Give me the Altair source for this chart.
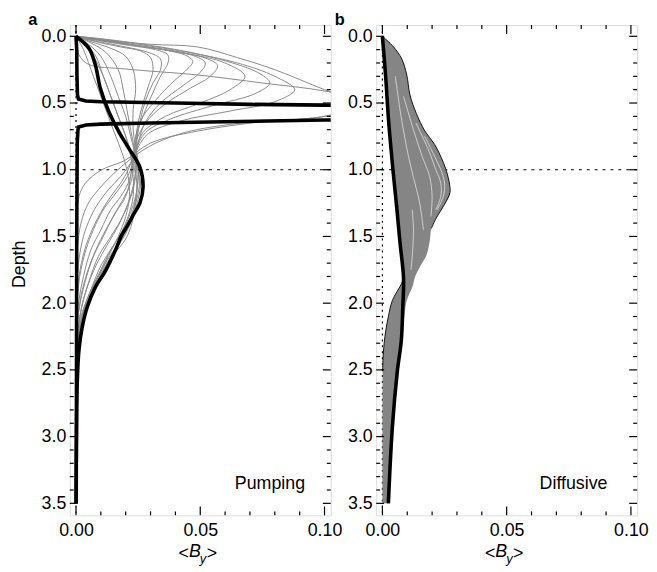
import altair as alt
import pandas as pd

# ---------------- panel a : thin grey profiles (depth, <By>) ----------------
A_C1_D = [0, 0.03, 0.06, 0.08, 0.16, 0.25, 0.4, 0.5, 0.6, 0.64, 0.71, 0.8, 0.93, 1.0, 1.1, 1.2, 1.35, 1.6]
A_C1_X = [0, 0.012, 0.03, 0.049, 0.065, 0.08, 0.1, 0.115, 0.1, 0.075, 0.049, 0.03, 0.0197, 0.0104, 0.0038, 0.0012, 0.0003, 0]
A_C2_D = [0, 0.07, 0.14, 0.21, 0.245, 0.29, 0.35, 0.41, 0.5, 0.6, 0.66, 0.73, 0.83, 0.95, 1.05, 1.15, 1.25, 1.4, 1.6, 1.8]
A_C2_X = [0, 0.0005, 0.0012, 0.005, 0.02, 0.049, 0.075, 0.1, 0.12, 0.1, 0.062, 0.042, 0.029, 0.02, 0.014, 0.009, 0.005, 0.002, 0.0005, 0]
A_P2_D = [0, 0.02, 0.06, 0.12, 0.2, 0.3, 0.4, 0.49, 0.56, 0.635, 0.73, 0.83, 0.95, 1.05, 1.15, 1.25, 1.35, 1.5, 1.7, 2.0]
A_P2_X = [0, 0.01, 0.025, 0.045, 0.065, 0.08, 0.088, 0.08, 0.062, 0.042, 0.029, 0.025, 0.022, 0.018, 0.013, 0.009, 0.006, 0.003, 0.001, 0]
A_P2B_D = [0, 0.02, 0.06, 0.12, 0.2, 0.28, 0.35, 0.43, 0.52, 0.62, 0.72, 0.85, 1.0, 1.1, 1.2, 1.32, 1.45, 1.6, 1.8, 2.05]
A_P2B_X = [0, 0.011, 0.027, 0.046, 0.063, 0.074, 0.078, 0.072, 0.055, 0.038, 0.028, 0.024, 0.021, 0.018, 0.014, 0.01, 0.0065, 0.0035, 0.0012, 0]
A_P3_D = [0, 0.025, 0.07, 0.13, 0.2, 0.3, 0.4, 0.5, 0.6, 0.72, 0.85, 1.0, 1.1, 1.2, 1.3, 1.45, 1.6, 1.8, 2.1]
A_P3_X = [0, 0.01, 0.025, 0.045, 0.06, 0.068, 0.062, 0.05, 0.036, 0.027, 0.024, 0.022, 0.019, 0.015, 0.011, 0.007, 0.004, 0.0015, 0]
A_P4_D = [0, 0.03, 0.07, 0.12, 0.17, 0.22, 0.3, 0.4, 0.52, 0.65, 0.8, 0.95, 1.1, 1.2, 1.3, 1.45, 1.6, 1.8, 2.0, 2.2]
A_P4_X = [0, 0.01, 0.025, 0.042, 0.053, 0.057, 0.054, 0.045, 0.035, 0.028, 0.024, 0.023, 0.021, 0.018, 0.014, 0.01, 0.006, 0.003, 0.001, 0]
A_P4B_D = [0, 0.03, 0.07, 0.11, 0.15, 0.2, 0.27, 0.37, 0.5, 0.64, 0.8, 0.95, 1.1, 1.22, 1.35, 1.5, 1.65, 1.85, 2.05, 2.25]
A_P4B_X = [0, 0.01, 0.024, 0.038, 0.048, 0.052, 0.05, 0.043, 0.034, 0.028, 0.025, 0.0235, 0.022, 0.019, 0.015, 0.011, 0.007, 0.0035, 0.0012, 0]
A_P5_D = [0, 0.03, 0.07, 0.11, 0.15, 0.19, 0.26, 0.36, 0.48, 0.6, 0.75, 0.9, 1.05, 1.2, 1.32, 1.45, 1.6, 1.8, 2.0, 2.3]
A_P5_X = [0, 0.01, 0.025, 0.038, 0.045, 0.047, 0.044, 0.038, 0.032, 0.027, 0.024, 0.023, 0.022, 0.02, 0.016, 0.012, 0.008, 0.004, 0.0015, 0]
A_P6_D = [0, 0.035, 0.07, 0.1, 0.14, 0.2, 0.3, 0.42, 0.55, 0.7, 0.85, 1.0, 1.12, 1.25, 1.38, 1.5, 1.65, 1.85, 2.05, 2.35]
A_P6_X = [0, 0.01, 0.022, 0.032, 0.037, 0.037, 0.034, 0.031, 0.028, 0.025, 0.024, 0.024, 0.023, 0.021, 0.018, 0.014, 0.009, 0.005, 0.002, 0]
A_P6B_D = [0, 0.04, 0.08, 0.12, 0.17, 0.25, 0.35, 0.48, 0.62, 0.78, 0.92, 1.05, 1.18, 1.3, 1.42, 1.55, 1.7, 1.88, 2.08, 2.38]
A_P6B_X = [0, 0.009, 0.02, 0.029, 0.034, 0.034, 0.031, 0.028, 0.026, 0.0245, 0.0245, 0.024, 0.0225, 0.02, 0.017, 0.013, 0.0085, 0.0045, 0.0018, 0]
A_P7_D = [0, 0.04, 0.08, 0.11, 0.16, 0.25, 0.38, 0.5, 0.65, 0.8, 0.95, 1.08, 1.2, 1.32, 1.45, 1.57, 1.72, 1.9, 2.1, 2.4]
A_P7_X = [0, 0.008, 0.018, 0.026, 0.03, 0.031, 0.029, 0.027, 0.025, 0.024, 0.025, 0.025, 0.024, 0.022, 0.019, 0.015, 0.01, 0.006, 0.0025, 0]
A_P8_D = [0, 0.04, 0.09, 0.15, 0.25, 0.4, 0.55, 0.7, 0.85, 1.0, 1.1, 1.22, 1.35, 1.48, 1.6, 1.75, 1.9, 2.1, 2.3, 2.45]
A_P8_X = [0, 0.006, 0.014, 0.02, 0.023, 0.024, 0.023, 0.023, 0.024, 0.025, 0.026, 0.025, 0.023, 0.02, 0.016, 0.011, 0.007, 0.003, 0.001, 0]
A_Q1_D = [0, 0.06, 0.15, 0.3, 0.45, 0.6, 0.75, 0.9, 1.0, 1.12, 1.25, 1.38, 1.5, 1.62, 1.75, 1.9, 2.05, 2.25, 2.5]
A_Q1_X = [0, 0.005, 0.01, 0.014, 0.017, 0.02, 0.022, 0.024, 0.025, 0.0255, 0.024, 0.022, 0.019, 0.015, 0.011, 0.007, 0.004, 0.0015, 0]
A_Q2_D = [0, 0.06, 0.15, 0.3, 0.45, 0.6, 0.75, 0.9, 1.05, 1.2, 1.35, 1.48, 1.6, 1.75, 1.9, 2.05, 2.25, 2.5]
A_Q2_X = [0, 0.004, 0.008, 0.011, 0.014, 0.017, 0.02, 0.022, 0.023, 0.023, 0.021, 0.018, 0.014, 0.01, 0.006, 0.003, 0.001, 0]
A_R1_D = [0, 0.06, 0.15, 0.3, 0.5, 0.65, 0.8, 0.95, 1.1, 1.25, 1.4, 1.52, 1.65, 1.78, 1.9, 2.05, 2.2, 2.4]
A_R1_X = [0, 0.003, 0.007, 0.011, 0.015, 0.018, 0.021, 0.023, 0.0245, 0.024, 0.0225, 0.02, 0.0145, 0.0105, 0.007, 0.0035, 0.0012, 0]
A_Q3_D = [0, 0.1, 0.3, 0.5, 0.7, 0.9, 1.05, 1.2, 1.35, 1.5, 1.65, 1.8, 1.95, 2.1, 2.3]
A_Q3_X = [0, 0.003, 0.007, 0.011, 0.015, 0.019, 0.021, 0.0215, 0.02, 0.017, 0.013, 0.009, 0.005, 0.002, 0]
A_Q4_D = [0, 0.05, 0.12, 0.25, 0.4, 0.55, 0.7, 0.85, 1.0, 1.15, 1.3, 1.42, 1.55, 1.68, 1.82, 1.97, 2.15, 2.4]
A_Q4_X = [0, 0.006, 0.012, 0.017, 0.019, 0.0205, 0.022, 0.0235, 0.0245, 0.0245, 0.023, 0.0205, 0.017, 0.0125, 0.0085, 0.005, 0.002, 0]

A_GREY = [(A_C1_D, A_C1_X), (A_C2_D, A_C2_X), (A_P2_D, A_P2_X), (A_P2B_D, A_P2B_X),
          (A_P3_D, A_P3_X), (A_P4_D, A_P4_X), (A_P4B_D, A_P4B_X), (A_P5_D, A_P5_X),
          (A_P6_D, A_P6_X), (A_P6B_D, A_P6B_X), (A_P7_D, A_P7_X), (A_P8_D, A_P8_X),
          (A_Q1_D, A_Q1_X), (A_Q2_D, A_Q2_X), (A_R1_D, A_R1_X), (A_Q3_D, A_Q3_X),
          (A_Q4_D, A_Q4_X)]

# thick black profiles, panel a
A_SPIKE_D = [0, 0.1, 0.3, 0.44, 0.47, 0.485, 0.49, 0.5, 0.51, 0.516, 0.57, 0.627, 0.64, 0.65, 0.658, 0.665, 0.68, 0.7, 0.8, 1.5, 2.5, 3.5]
A_SPIKE_X = [0, 0.0003, 0.0004, 0.0006, 0.001, 0.004, 0.01, 0.04, 0.07, 0.1, 0.4, 0.1, 0.06, 0.03, 0.01, 0.004, 0.001, 0.0008, 0.0005, 0.0003, 0.0002, 0.0001]
A_THICK_D = [0, 0.09, 0.215, 0.39, 0.56, 0.71, 0.833, 0.98, 1.13, 1.25, 1.34, 1.41, 1.49, 1.61, 1.76, 1.88, 2.03, 2.18, 2.35, 2.6, 3.0, 3.5]
A_THICK_X = [0, 0.0052, 0.0078, 0.0098, 0.0131, 0.0171, 0.021, 0.0257, 0.027, 0.0257, 0.023, 0.021, 0.0184, 0.0157, 0.0118, 0.0078, 0.0045, 0.0025, 0.0012, 0.0005, 0.0002, 0.0]

# ---------------- panel b ----------------
B_AREA_D = [0, 0.08, 0.17, 0.29, 0.44, 0.58, 0.71, 0.81, 0.91, 1.0, 1.06, 1.12, 1.17, 1.26, 1.36, 1.44, 1.54, 1.64, 1.73, 1.81, 1.86, 1.98, 2.1, 2.2, 2.3, 2.43, 2.51, 2.93, 3.5]
B_AREA_L = [0, 0.0003, 0.0007, 0.0012, 0.0018, 0.0023, 0.0029, 0.0033, 0.0038, 0.0043, 0.0046, 0.0049, 0.0052, 0.0056, 0.0062, 0.0066, 0.0071, 0.0076, 0.0081, 0.0085, 0.0075, 0.004, 0.0024, 0.0014, 0.0007, 0.0002, 0.0001, 0.0, 0.0]
B_AREA_R = [0, 0.0045, 0.0078, 0.0098, 0.0111, 0.0137, 0.0171, 0.021, 0.0237, 0.0256, 0.0265, 0.0271, 0.0272, 0.025, 0.0217, 0.0197, 0.019, 0.0177, 0.015, 0.013, 0.0124, 0.0098, 0.0088, 0.0082, 0.0075, 0.0066, 0.006, 0.004, 0.0024]
B_THICK_D = [0, 0.3, 0.635, 1.05, 1.29, 1.55, 1.81, 2.03, 2.28, 2.51, 2.93, 3.5]
B_THICK_X = [0, 0.0013, 0.0025, 0.0045, 0.0058, 0.0071, 0.0085, 0.0082, 0.0076, 0.006, 0.004, 0.0024]
B_EDGE_R_D = [0, 0.08, 0.17, 0.29, 0.44, 0.58, 0.71, 0.81, 0.91, 1.0, 1.06, 1.12, 1.17, 1.26, 1.36, 1.44]
B_EDGE_R_X = [0, 0.0045, 0.0078, 0.0098, 0.0111, 0.0137, 0.0171, 0.021, 0.0237, 0.0256, 0.0265, 0.0271, 0.0272, 0.025, 0.0217, 0.0197]
B_EDGE_L_D = [1.81, 1.86, 1.98, 2.1, 2.2, 2.3, 2.43, 2.51]
B_EDGE_L_X = [0.0085, 0.0075, 0.004, 0.0024, 0.0014, 0.0007, 0.0002, 0.0001]
B_W1_D = [0.3, 0.6, 0.9, 1.05, 1.25, 1.45]
B_W1_X = [0.0052, 0.0075, 0.0105, 0.0124, 0.015, 0.0165]
B_W2_D = [0.45, 0.7, 0.9, 1.05, 1.2, 1.35]
B_W2_X = [0.0085, 0.0125, 0.016, 0.019, 0.02, 0.0195]
B_W3_D = [0.65, 0.85, 1.0, 1.1, 1.2, 1.3]
B_W3_X = [0.0135, 0.0185, 0.0215, 0.0235, 0.0235, 0.0215]
B_W4_D = [0.75, 0.9, 1.0, 1.1, 1.2, 1.3]
B_W4_X = [0.017, 0.021, 0.0235, 0.025, 0.0245, 0.022]
B_W5_D = [1.3, 1.45, 1.6, 1.75]
B_W5_X = [0.012, 0.0125, 0.0122, 0.0115]
B_WHITE = [(B_W1_D, B_W1_X), (B_W2_D, B_W2_X), (B_W3_D, B_W3_X), (B_W4_D, B_W4_X), (B_W5_D, B_W5_X)]

# ---------------- axes / ticks ----------------
X_LABELS = [0.0, 0.05, 0.10]
Y_LABELS = [0.0, 0.5, 1.0, 1.5, 2.0, 2.5, 3.0, 3.5]
X_MINOR = [0.01, 0.02, 0.03, 0.04, 0.06, 0.07, 0.08, 0.09]
Y_MINOR = [0.1, 0.2, 0.3, 0.4, 0.6, 0.7, 0.8, 0.9, 1.1, 1.2, 1.3, 1.4, 1.6, 1.7, 1.8, 1.9,
           2.1, 2.2, 2.3, 2.4, 2.6, 2.7, 2.8, 2.9, 3.1, 3.2, 3.3, 3.4]
REF_DEPTH = [1.0]
REF_X = [0.0]

W, H = 264, 496
FONT = "Liberation Sans"
XS = alt.Scale(domain=[-0.0025, 0.1025], nice=False, zero=False)
YS = alt.Scale(domain=[-0.084, 3.59], nice=False, zero=False, reverse=True)
XAX = alt.Axis(values=X_LABELS, format=".2f", tickSize=0, domain=False, grid=False,
               labelPadding=6, labelFontSize=18, labelFont=FONT, labelColor="black", title=None)
YAX = alt.Axis(values=Y_LABELS, format=".1f", tickSize=0, domain=False, grid=False,
               labelPadding=4, labelFontSize=18, labelFont=FONT, labelColor="black", title=None)


def X(field):
    return alt.X(field, type="quantitative", scale=XS, axis=XAX)


def Y(field):
    return alt.Y(field, type="quantitative", scale=YS, axis=YAX)


def curves_df(curves):
    rows = []
    for cid, (d, x) in enumerate(curves):
        for i, (dd, xx) in enumerate(zip(d, x)):
            rows.append({"c": cid, "i": i, "depth": dd, "b": xx})
    return pd.DataFrame(rows)


def line_layer(curves, color, width, interp="catmull-rom", opacity=1.0):
    return alt.Chart(curves_df(curves)).mark_line(
        color=color, strokeWidth=width, interpolate=interp, clip=True, opacity=opacity
    ).encode(x=X("b"), y=Y("depth"), detail="c:N", order="i:Q")


def tick_layers():
    out = []
    for vals, ln in ((X_MINOR, 4), (X_LABELS, 9)):
        df = pd.DataFrame({"v": vals})
        out.append(alt.Chart(df).mark_rule(color="black", strokeWidth=1.2).encode(
            x=X("v"), y=alt.value(H), y2=alt.value(H - ln)))
        out.append(alt.Chart(df).mark_rule(color="black", strokeWidth=1.2).encode(
            x=X("v"), y=alt.value(0), y2=alt.value(ln)))
    for vals, ln in ((Y_MINOR, 4), (Y_LABELS, 8)):
        df = pd.DataFrame({"v": vals})
        out.append(alt.Chart(df).mark_rule(color="black", strokeWidth=1.2).encode(
            y=Y("v"), x=alt.value(0), x2=alt.value(ln)))
        out.append(alt.Chart(df).mark_rule(color="black", strokeWidth=1.2).encode(
            y=Y("v"), x=alt.value(W), x2=alt.value(W - ln)))
    return out


def ref_layers():
    h = alt.Chart(pd.DataFrame({"v": REF_DEPTH})).mark_rule(
        color="black", strokeWidth=1, strokeDash=[3, 5]).encode(y=Y("v"))
    v = alt.Chart(pd.DataFrame({"v": REF_X})).mark_rule(
        color="black", strokeWidth=1.2, strokeDash=[2, 4]).encode(x=X("v"))
    return [h, v]


def text_layer(txt, x, y, size=18, weight="normal", style="normal", align="left"):
    return alt.Chart(pd.DataFrame({"t": [txt]})).mark_text(
        font=FONT, fontSize=size, fontWeight=weight, fontStyle=style, align=align,
        baseline="alphabetic", color="black"
    ).encode(text="t:N", x=alt.value(x), y=alt.value(y))


def annotations(letter, name, name_right):
    return [
        text_layer(letter, -42, -0.5, size=16.5, weight="bold"),
        text_layer(name, name_right, 469, align="right"),
        text_layer("<", 110, 540),
        text_layer("B", 120.5, 538.5, style="italic"),
        text_layer("y", 131.5, 544.5, size=13, style="italic"),
        text_layer(">", 138.5, 540),
    ]


# panel a
a_layers = [line_layer(A_GREY, "#8a8a8a", 1.0)] + ref_layers() + [
    line_layer([(A_SPIKE_D, A_SPIKE_X)], "black", 3.6, interp="linear"),
    line_layer([(A_THICK_D, A_THICK_X)], "black", 3.6),
] + tick_layers() + annotations("a", "Pumping", 238) + [
    text_layer("Depth", -45.5, 242, align="center").encode(angle=alt.value(270))
]
panel_a = alt.layer(*a_layers).properties(width=W, height=H)

# panel b
area_df = pd.DataFrame({"depth": B_AREA_D, "l": B_AREA_L, "r": B_AREA_R})
b_area = alt.Chart(area_df).mark_area(
    color="#858585", orient="horizontal", interpolate="monotone", clip=True
).encode(y=Y("depth"), x=X("l"), x2="r")

b_layers = ref_layers() + [
    b_area,
    line_layer(B_WHITE, "white", 0.7, opacity=0.85),
    line_layer([(B_EDGE_R_D, B_EDGE_R_X), (B_EDGE_L_D, B_EDGE_L_X)], "black", 0.9),
    line_layer([(B_THICK_D, B_THICK_X)], "black", 3.6),
] + tick_layers() + annotations("b", "Diffusive", 234)
panel_b = alt.layer(*b_layers).properties(width=W, height=H)

chart = alt.hconcat(panel_a, panel_b, spacing=46, bounds="flush").properties(
    padding={"left": 2.5, "top": 0, "right": 0, "bottom": 0}
).configure_view(stroke="black", strokeWidth=1.5).configure(font=FONT)

chart.save("out.html", embed_options={"renderer": "svg", "actions": False})
